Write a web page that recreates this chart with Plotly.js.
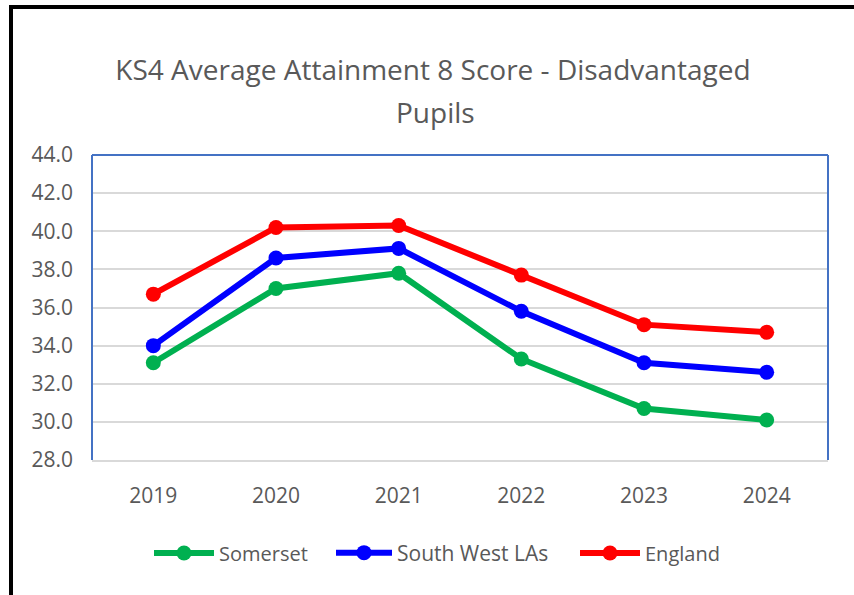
<!DOCTYPE html>
<html>
<head>
<meta charset="utf-8">
<script src="https://cdn.plot.ly/plotly-3.0.1.min.js"></script>
<style>
  html, body { margin: 0; padding: 0; background: #ffffff; }
  #chart { position: absolute; left: 0; top: 0; width: 854px; height: 595px; }
  #frame { position: absolute; left: 9px; top: 5px; width: 845px; height: 590px;
           border-left: 4px solid #000; border-top: 4px solid #000; box-sizing: border-box;
           pointer-events: none; }
</style>
</head>
<body>
<div id="chart"></div>
<div id="frame"></div>
<script>
const years = ['2019', '2020', '2021', '2022', '2023', '2024'];
const somerset = [33.1, 37.0, 37.8, 33.3, 30.7, 30.1];
const southWest = [34.0, 38.6, 39.1, 35.8, 33.1, 32.6];
const england = [36.7, 40.2, 40.3, 37.7, 35.1, 34.7];
const seriesNames = ['Somerset', 'South West LAs', 'England'];
const seriesColors = ['#00B050', '#0000FF', '#FF0000'];
const yTicks = [28, 30, 32, 34, 36, 38, 40, 42, 44];
const titleLine1 = 'KS4 Average Attainment 8 Score - Disadvantaged';
const titleLine2 = 'Pupils';

const legendIds = ['legend', 'legend2', 'legend3'];
const legendLeftPx = [149, 331, 575];
const legendItemWidth = [60, 56, 60];

const allSeries = [somerset, southWest, england];
const traces = allSeries.map((vals, i) => ({
  type: 'scatter',
  mode: 'lines+markers',
  x: years,
  y: vals,
  name: seriesNames[i],
  legend: legendIds[i],
  line: { color: seriesColors[i], width: 6 },
  marker: { color: seriesColors[i], size: 15 }
}));

const font = 'Open Sans, sans-serif';
const plotL = 92, plotW = 736, plotT = 155, plotH = 305;
const layout = {
  width: 854,
  height: 595,
  margin: { l: 92, r: 26, t: 155, b: 135 },
  paper_bgcolor: '#ffffff',
  plot_bgcolor: '#ffffff',
  font: { family: font, color: '#595959', size: 21 },
  title: {
    text: titleLine1,
    x: 0.507, xanchor: 'center',
    y: 1 - 70 / 595, yanchor: 'middle',
    font: { family: font, size: 28, color: '#595959' }
  },
  annotations: [
    { text: titleLine2, xref: 'paper', yref: 'paper', x: (435 - plotL) / plotW, xanchor: 'center',
      y: 1 + (plotT - 112) / plotH, yanchor: 'middle', showarrow: false,
      font: { family: font, size: 28, color: '#595959' } }
  ],
  xaxis: {
    type: 'category',
    range: [-0.5, 5.5],
    showgrid: false,
    showline: true,
    linecolor: '#D9D9D9',
    linewidth: 2,
    ticks: '',
    ticklabelstandoff: 16,
    tickfont: { family: font, size: 21, color: '#595959' },
    fixedrange: true
  },
  yaxis: {
    range: [28, 44],
    tickvals: yTicks,
    ticktext: yTicks.map(v => v.toFixed(1)),
    showgrid: true,
    gridcolor: '#D9D9D9',
    gridwidth: 2,
    zeroline: false,
    showline: false,
    ticks: '',
    ticklabelstandoff: 18,
    tickfont: { family: font, size: 21, color: '#595959' },
    fixedrange: true
  },
  shapes: [
    { type: 'line', xref: 'paper', yref: 'paper', x0: 0, x1: 1, y0: 1, y1: 1, line: { color: '#4472C4', width: 2 } },
    { type: 'line', xref: 'paper', yref: 'paper', x0: 0, x1: 0, y0: 0, y1: 1, line: { color: '#4472C4', width: 2 } },
    { type: 'line', xref: 'paper', yref: 'paper', x0: 1, x1: 1, y0: 0, y1: 1, line: { color: '#4472C4', width: 2 } }
  ],
  showlegend: true
};

legendIds.forEach((id, i) => {
  layout[id] = {
    orientation: 'h',
    x: (legendLeftPx[i] - plotL) / plotW, xanchor: 'left',
    y: 1 - (553 - plotT) / plotH, yanchor: 'middle',
    font: { family: font, size: i === 1 ? 21 : 20, color: '#595959' },
    itemwidth: legendItemWidth[i],
    bgcolor: 'rgba(0,0,0,0)'
  };
});

Plotly.newPlot('chart', traces, layout, { displayModeBar: false, staticPlot: true });
</script>
</body>
</html>
